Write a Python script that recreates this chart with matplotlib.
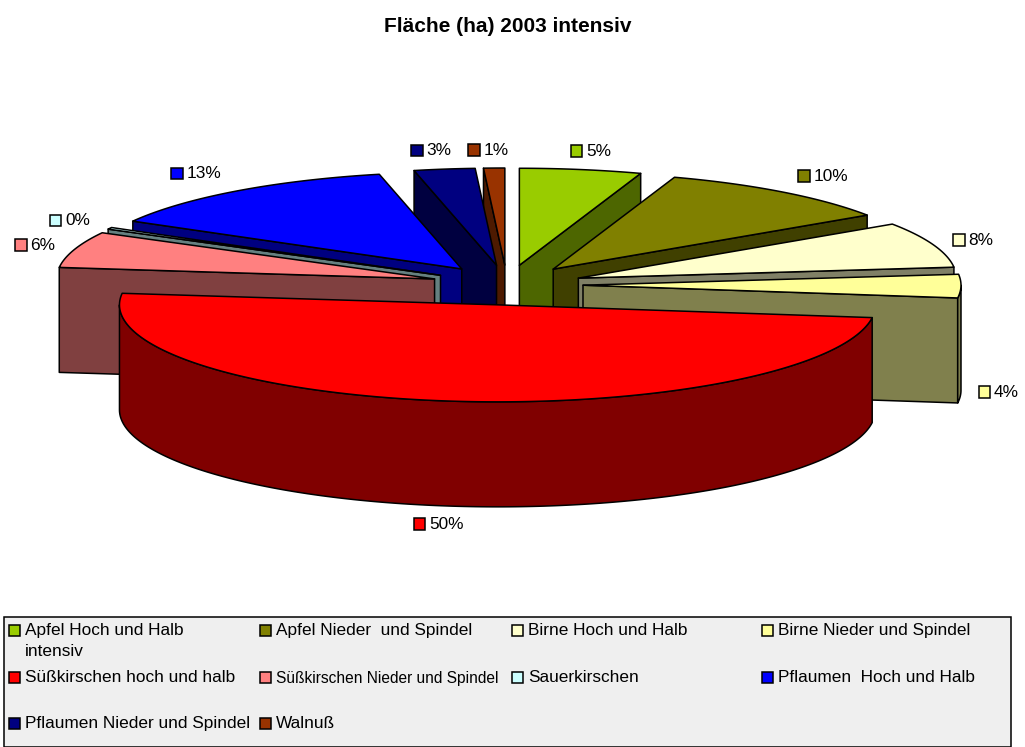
import numpy as np
import matplotlib
matplotlib.use("Agg")
import matplotlib.pyplot as plt
from matplotlib.patches import Polygon, Rectangle
from matplotlib.colors import to_rgb

plt.rcParams['font.family'] = ['Liberation Sans', 'DejaVu Sans']

# --- data ---
title = "Fläche (ha) 2003 intensiv"
categories = ["Apfel Hoch und Halb\nintensiv", "Apfel Nieder  und Spindel", "Birne Hoch und Halb",
              "Birne Nieder und Spindel", "Süßkirschen hoch und halb", "Süßkirschen Nieder und Spindel",
              "Sauerkirschen", "Pflaumen  Hoch und Halb", "Pflaumen Nieder und Spindel", "Walnuß"]
values = [5.2, 10.4, 7.6, 3.9, 49.8, 6.0, 0.3, 13.3, 2.6, 0.9]
colors = ["#99CC00", "#808000", "#FFFFCC", "#FFFF99", "#FF0000",
          "#FF8080", "#CCFFFF", "#0000FF", "#000080", "#993300"]

# --- layout (pixels) ---
CX, CY = 507, 285      # pie centre
RX, RY = 378, 97       # top ellipse radii
EX, EY = 76, 20        # explosion offset
DEPTH = 105
LW = 1.1
FS = 12.4
# label key top-left corner for each slice
label_pos = [(570.5, 145), (798, 170), (953, 234), (978.5, 386), (413.5, 518),
             (15, 239), (49.5, 214.5), (171, 167.5), (411, 144.5), (468, 144)]
KEY = 11.5
# legend layout: column of key left, row of key centre
legend_col_x = [9, 260, 512, 762]
legend_row_y = [630, 677, 723]
legend_box = (4, 617, 1007, 130)

fig = plt.figure(figsize=(10.25, 7.47), dpi=100)
ax = fig.add_axes([0, 0, 1, 1])
ax.set_xlim(0, 1025)
ax.set_ylim(747, 0)
ax.axis("off")

total = sum(values)
bounds = np.concatenate([[0], np.cumsum(values)]) / total * 360.0


def rim(ax0, ay0, deg):
    t = np.radians(deg)
    return ax0 + RX * np.sin(t), ay0 - RY * np.cos(t)


def dark(c):
    return tuple(v * 0.5 for v in to_rgb(c))


def poly(pts, fc, z):
    ax.add_patch(Polygon(pts, closed=True, facecolor=fc, edgecolor="black",
                         linewidth=LW, joinstyle="round", zorder=z))


slices = []
for i, v in enumerate(values):
    a0, a1 = bounds[i], bounds[i + 1]
    mid = np.radians((a0 + a1) / 2)
    ax0 = CX + EX * np.sin(mid)
    ay0 = CY - EY * np.cos(mid)
    slices.append((ay0, i, a0, a1, ax0))

# back-to-front painter's order
for z, (ay0, i, a0, a1, ax0) in enumerate(sorted(slices, key=lambda s: s[0])):
    c = colors[i]
    d = dark(c)
    angs = np.linspace(a0, a1, max(int(a1 - a0) * 2, 6))
    xs, ys = rim(ax0, ay0, angs)
    base = 10 + z * 3
    mid = (a0 + a1) / 2
    # cut wall facing the viewer
    if a1 - a0 < 170:
        cut = a1 if mid < 180 else a0
        px, py = rim(ax0, ay0, cut)
        poly([(ax0, ay0), (px, py), (px, py + DEPTH), (ax0, ay0 + DEPTH)], d, base)
    # outer wall, front half only
    lo, hi = max(a0, 90), min(a1, 270)
    if hi > lo:
        wa = np.linspace(lo, hi, 200)
        wx, wy = rim(ax0, ay0, wa)
        pts = list(zip(wx, wy)) + list(zip(wx[::-1], wy[::-1] + DEPTH))
        poly(pts, d, base + 1)
    # top
    poly([(ax0, ay0)] + list(zip(xs, ys)), c, base + 2)

# data labels
for i, (x, y) in enumerate(label_pos):
    ax.add_patch(Rectangle((x, y), KEY, KEY, facecolor=colors[i], edgecolor="black",
                           linewidth=LW, zorder=80))
    ax.text(x + KEY + 4, y + KEY / 2 + 0.5, f"{round(values[i] / total * 100)}%",
            fontsize=FS, color="black", va="center", ha="left", zorder=80)

# title
ax.text(508, 27, title, fontsize=15, fontweight="bold", ha="center", va="center")

# legend
ax.add_patch(Rectangle(legend_box[:2], legend_box[2], legend_box[3], facecolor="#EFEFEF",
                       edgecolor="black", linewidth=LW, zorder=70, clip_on=True))
for i, name in enumerate(categories):
    row, col = i // 4, i % 4
    x, y = legend_col_x[col], legend_row_y[row]
    ax.add_patch(Rectangle((x, y - 5.5), 11, 11, facecolor=colors[i], edgecolor="black",
                           linewidth=LW, zorder=80))
    fs = 11.2 if i == 5 else FS
    ax.text(x + 16, y - (6 if i == 5 else 7), name, fontsize=fs, color="black", ha="left", va="top",
            linespacing=1.5, zorder=80)

fig.savefig("out.png", dpi=100)
